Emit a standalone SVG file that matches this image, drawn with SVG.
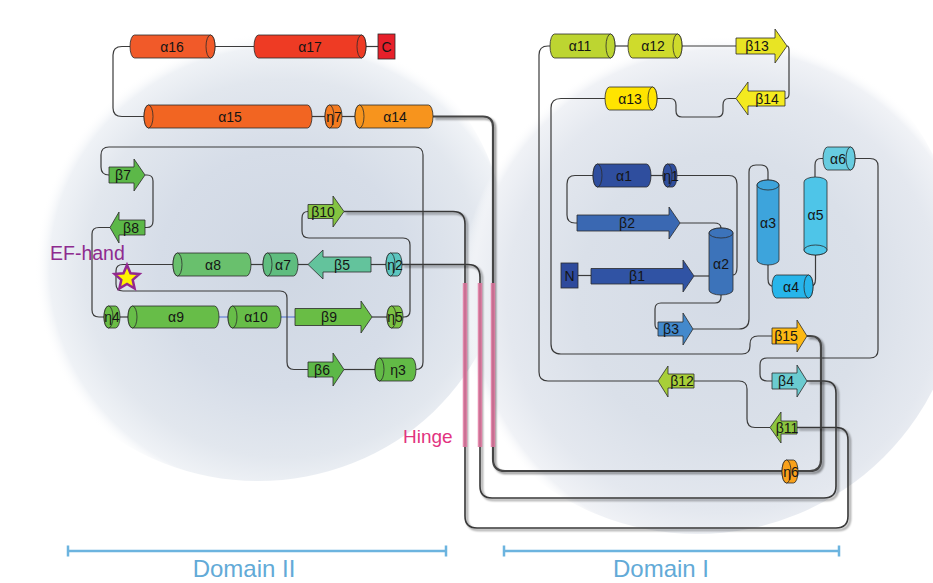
<svg xmlns="http://www.w3.org/2000/svg" width="933" height="583" viewBox="0 0 933 583">
  <defs>
    <radialGradient id="bgL" cx="0.55" cy="0.55" r="0.5">
      <stop offset="0" stop-color="#cfd7e3"/>
      <stop offset="0.5" stop-color="#d6dde8"/>
      <stop offset="0.8" stop-color="#e2e7ee"/>
      <stop offset="0.94" stop-color="#eff2f6"/>
      <stop offset="1" stop-color="#ffffff" stop-opacity="0"/>
    </radialGradient>
    <radialGradient id="bgR" cx="0.55" cy="0.55" r="0.5">
      <stop offset="0" stop-color="#d4dbe6"/>
      <stop offset="0.55" stop-color="#dae0e9"/>
      <stop offset="0.82" stop-color="#e4e8ef"/>
      <stop offset="0.95" stop-color="#f0f2f6"/>
      <stop offset="1" stop-color="#ffffff" stop-opacity="0"/>
    </radialGradient>
    <filter id="sh" x="-5%" y="-5%" width="112%" height="112%">
      <feGaussianBlur in="SourceAlpha" stdDeviation="1.3"/>
      <feOffset dx="2" dy="2" result="b"/>
      <feComponentTransfer><feFuncA type="linear" slope="0.5"/></feComponentTransfer>
      <feMerge><feMergeNode/><feMergeNode in="SourceGraphic"/></feMerge>
    </filter>
    <style>
      .ln{fill:none;stroke:#3b3b3b;stroke-width:1.2}
      .bl{fill:none;stroke:#4c6fd1;stroke-width:1}
      .hl{fill:none;stroke:#383838;stroke-width:1.6;filter:url(#sh)}
      .hb{stroke:#e0769f;stroke-width:4.5;opacity:0.85}
      .s{stroke:#2b2b2b;stroke-width:0.8}
      .lb{font-family:"Liberation Sans",Arial,sans-serif;font-size:14px;fill:#151515;text-anchor:middle}
      .dom{font-family:"Liberation Sans",Arial,sans-serif;font-size:24px;fill:#62aad7;text-anchor:middle}
      .dl{fill:none;stroke:#6cb4df;stroke-width:2.5}
    </style>
  </defs>

  <!-- domain backdrops -->
  <ellipse cx="258" cy="245" rx="248" ry="236" fill="url(#bgL)"/>
  <ellipse cx="697" cy="272" rx="264" ry="262" fill="url(#bgR)"/>

  <!-- connectors -->
  <g id="connectors">
    <path class="ln" d="M130,46.5 H122 Q113,46.5 113,55 V108 Q113,116.5 122,116.5 H144"/>
    <path class="ln" d="M215,46.5 H254"/>
    <path class="ln" d="M366,46.5 H378"/>
    <path class="ln" d="M312,116.5 H325"/>
    <path class="ln" d="M342,116.5 H355"/>
    <path class="ln" d="M109,175 Q101,175 101,167 V155 Q101,147 109,147 H415 Q423,147 423,155 V362 Q423,369.5 416,369.5"/>
    <path class="ln" d="M145,175 H147 Q153,175 153,181 V221 Q153,227.5 147,227.5 H145"/>
    <path class="ln" d="M110,227.5 H99 Q92,227.5 92,234 V310 Q92,317 99,317 H104"/>
    <path class="ln" d="M120,317 H128"/>
    <path class="bl" d="M219,317 H228 M281,317 H295"/>
    <path class="ln" d="M372,317 H387"/>
    <path class="ln" d="M403,317 H404 Q410,317 410,311 V245 Q410,238 403,238 H309 Q302,238 302,231 V218 Q302,211.5 308,211.5"/>
    <path class="ln" d="M386,264.5 H371"/>
    <path class="ln" d="M308,264.5 H298"/>
    <path class="ln" d="M263,264.5 H251"/>
    <path class="ln" d="M173,264.5 H123 Q116,264.5 116,271 V284 Q116,291 123,291 H280 Q287,291 287,298 V362 Q287,369.5 294,369.5 H308"/>
    <path class="ln" d="M344,369.5 H375"/>

    <path class="ln" d="M615,46 H628"/>
    <path class="ln" d="M682,46 H736"/>
    <path class="ln" d="M787,46 Q789,46 789,50 V94 Q789,98.5 785,98.5"/>
    <path class="ln" d="M736,98.5 H729 Q723,98.5 723,105 V111 Q723,117 717,117 H682 Q676,117 676,111 V105 Q676,98.5 670,98.5 H657"/>
    <path class="ln" d="M605,98.5 H561 Q551,98.5 551,108 V344 Q551,354 561,354 H742 Q750,354 750,346 V344 Q750,336 758,336 H772"/>
    <path class="ln" d="M550,46 H548 Q539,46 539,55 V372 Q539,381 548,381 H658"/>
    <path class="ln" d="M694,381 H739 Q747,381 747,389 V419 Q747,427.5 755,427.5 H770"/>
    <path class="ln" d="M855,158.5 H870 Q878,158.5 878,166 V350 Q878,358 870,358 H767 Q760,358 760,365 V374 Q760,381 767,381 H772"/>
    <path class="ln" d="M823,158.5 H821 Q815,158.5 815,165 V177"/>
    <path class="ln" d="M815.5,255 V279 Q815.5,286.5 810,286.5"/>
    <path class="ln" d="M768,265 V279 Q768,286.5 774,286.5"/>
    <path class="ln" d="M768,180 V172 Q768,165 761,165 H756 Q749,165 749,172 V319 Q749,329 739,329 H693"/>
    <path class="ln" d="M658,329 Q655,329 655,324 V309 Q655,303 661,303 H715 Q721,303 721,297 V295"/>
    <path class="ln" d="M680,223 H714 Q721,223 721,228"/>
    <path class="ln" d="M593,175.5 H575 Q567,175.5 567,184 V215 Q567,223 575,223 H577"/>
    <path class="ln" d="M651,175.5 H663"/>
    <path class="ln" d="M677,175.5 H729 Q737,175.5 737,184 V267 Q737,275 733,275"/>
    <path class="ln" d="M578,275.5 H591"/>
    <path class="ln" d="M694,276 H709"/>

    <!-- long links across the hinge -->
    <path class="hl" style="stroke-width:2.2;stroke:#444" d="M433,116.5 H483 Q493,116.5 493,127 V459 Q493,471 505,471 H810 Q821,471 821,460 V347 Q821,336 810,336 H807"/>
    <path class="hl" d="M344,211.5 H453 Q465,211.5 465,224 V516 Q465,528 477,528 H836 Q848,528 848,516 V440 Q848,427.5 836,427.5 H797"/>
    <path class="hl" d="M402,264.5 H468 Q480,264.5 480,277 V486 Q480,498 492,498 H824 Q836,498 836,486 V393 Q836,381 824,381 H807"/>
  </g>

  <!-- hinge marks -->
  <g id="hinge">
    <path class="hb" d="M465,283 V447 M480,283 V447 M493,283 V447"/>
    <text x="403" y="443" style="font-family:'Liberation Sans',Arial,sans-serif;font-size:19px;fill:#e2337f">Hinge</text>
  </g>

  <!-- Domain II -->
  <g id="a16"><path class="s" fill="#f15a29" d="M134.5,35 H210.5 A4.5,11.5 0 0 1 210.5,58 H134.5 A4.5,11.5 0 0 1 134.5,35 Z"/><ellipse class="s" fill="#f15a29" cx="210.5" cy="46.5" rx="4.5" ry="11.5"/><text class="lb" x="172" y="51.5">α16</text></g>
  <g id="a17"><path class="s" fill="#ee3b24" d="M258.5,35 H361.5 A4.5,11.5 0 0 1 361.5,58 H258.5 A4.5,11.5 0 0 1 258.5,35 Z"/><ellipse class="s" fill="#ee3b24" cx="361.5" cy="46.5" rx="4.5" ry="11.5"/><text class="lb" x="310" y="51.5">α17</text></g>
  <g id="cterm"><rect class="s" fill="#e7202a" x="378" y="34" width="17" height="25"/><text class="lb" x="386.5" y="51.5">C</text></g>
  <g id="a15"><path class="s" fill="#f26522" d="M148.5,105 H307.5 A4.5,11.5 0 0 1 307.5,128 H148.5 A4.5,11.5 0 0 1 148.5,105 Z"/><ellipse class="s" fill="#f26522" cx="148.5" cy="116.5" rx="4.5" ry="11.5"/><text class="lb" x="230" y="121.5">α15</text></g>
  <g id="n7"><path class="s" fill="#f47b20" d="M329.5,105 H337.5 A4.5,11.5 0 0 1 337.5,128 H329.5 A4.5,11.5 0 0 1 329.5,105 Z"/><ellipse class="s" fill="#f47b20" cx="329.5" cy="116.5" rx="4.5" ry="11.5"/><text class="lb" x="334" y="121.5">η7</text></g>
  <g id="a14"><path class="s" fill="#f7941d" d="M359.5,105 H428.5 A4.5,11.5 0 0 1 428.5,128 H359.5 A4.5,11.5 0 0 1 359.5,105 Z"/><ellipse class="s" fill="#f7941d" cx="359.5" cy="116.5" rx="4.5" ry="11.5"/><text class="lb" x="395" y="121.5">α14</text></g>

  <g id="b7"><polygon class="s" fill="#5cb848" points="109,167 134,167 134,159 145,175 134,191 134,183 109,183"/><text class="lb" x="123" y="180">β7</text></g>
  <g id="b8"><polygon class="s" fill="#5cb848" points="110,227.5 119,212 119,220 145,220 145,235 119,235 119,243"/><text class="lb" x="131" y="232.5">β8</text></g>
  <g id="b10"><polygon class="s" fill="#84c441" points="308,204.5 333,204.5 333,196 344,211.5 333,227 333,218.5 308,218.5"/><text class="lb" x="323" y="216.5">β10</text></g>
  <g id="a8"><path class="s" fill="#69c06d" d="M177.5,253 H246.5 A4.5,11.5 0 0 1 246.5,276 H177.5 A4.5,11.5 0 0 1 177.5,253 Z"/><ellipse class="s" fill="#69c06d" cx="177.5" cy="264.5" rx="4.5" ry="11.5"/><text class="lb" x="213" y="269.5">α8</text></g>
  <g id="a7"><path class="s" fill="#5fbd7f" d="M267.5,253 H293.5 A4.5,11.5 0 0 1 293.5,276 H267.5 A4.5,11.5 0 0 1 267.5,253 Z"/><ellipse class="s" fill="#5fbd7f" cx="267.5" cy="264.5" rx="4.5" ry="11.5"/><text class="lb" x="283" y="269.5">α7</text></g>
  <g id="b5"><polygon class="s" fill="#63c39c" points="308,264.5 323,250 323,257 371,257 371,272 323,272 323,279"/><text class="lb" x="342" y="269.5">β5</text></g>
  <g id="n2"><path class="s" fill="#5cc6c0" d="M390.5,253 H397.5 A4.5,11.5 0 0 1 397.5,276 H390.5 A4.5,11.5 0 0 1 390.5,253 Z"/><ellipse class="s" fill="#5cc6c0" cx="390.5" cy="264.5" rx="4.5" ry="11.5"/><text class="lb" x="395" y="269.5">η2</text></g>

  <g id="efhand">
    <text x="50" y="260" style="font-family:'Liberation Sans',Arial,sans-serif;font-size:19.5px;fill:#8e2b8f">EF-hand</text>
    <polygon points="127,265 130.5,273.2 139.4,274 132.7,279.9 134.6,288.5 127,284 119.4,288.5 121.3,279.9 114.6,274 123.5,273.2" fill="#fff200" stroke="#93278f" stroke-width="2.5" stroke-linejoin="miter"/>
  </g>

  <g id="n4"><path class="s" fill="#6abd45" d="M108.5,306 H115.5 A4.5,11 0 0 1 115.5,328 H108.5 A4.5,11 0 0 1 108.5,306 Z"/><ellipse class="s" fill="#6abd45" cx="108.5" cy="317" rx="4.5" ry="11"/><text class="lb" x="112" y="322">η4</text></g>
  <g id="a9"><path class="s" fill="#67bd48" d="M132.5,306 H214.5 A4.5,11 0 0 1 214.5,328 H132.5 A4.5,11 0 0 1 132.5,306 Z"/><ellipse class="s" fill="#67bd48" cx="132.5" cy="317" rx="4.5" ry="11"/><text class="lb" x="176" y="322">α9</text></g>
  <g id="a10"><path class="s" fill="#67bd48" d="M232.5,306 H276.5 A4.5,11 0 0 1 276.5,328 H232.5 A4.5,11 0 0 1 232.5,306 Z"/><ellipse class="s" fill="#67bd48" cx="232.5" cy="317" rx="4.5" ry="11"/><text class="lb" x="256" y="322">α10</text></g>
  <g id="b9"><polygon class="s" fill="#69bd45" points="295,308.5 361,308.5 361,301 372,317 361,333 361,325.5 295,325.5"/><text class="lb" x="329" y="322">β9</text></g>
  <g id="n5"><path class="s" fill="#7cc242" d="M391.5,306 H398.5 A4.5,11 0 0 1 398.5,328 H391.5 A4.5,11 0 0 1 391.5,306 Z"/><ellipse class="s" fill="#7cc242" cx="391.5" cy="317" rx="4.5" ry="11"/><text class="lb" x="395" y="322">η5</text></g>
  <g id="b6"><polygon class="s" fill="#5db848" points="308,362 333,362 333,353 344,369.5 333,386 333,377 308,377"/><text class="lb" x="322" y="374.5">β6</text></g>
  <g id="n3"><path class="s" fill="#62ba46" d="M379.5,358 H411.5 A4.5,11.5 0 0 1 411.5,381 H379.5 A4.5,11.5 0 0 1 379.5,358 Z"/><ellipse class="s" fill="#62ba46" cx="379.5" cy="369.5" rx="4.5" ry="11.5"/><text class="lb" x="398" y="374.5">η3</text></g>

  <!-- Domain I -->
  <g id="a11"><path class="s" fill="#bdd531" d="M554.5,34 H610.5 A4.5,12 0 0 1 610.5,58 H554.5 A4.5,12 0 0 1 554.5,34 Z"/><ellipse class="s" fill="#bdd531" cx="610.5" cy="46" rx="4.5" ry="12"/><text class="lb" x="580" y="51">α11</text></g>
  <g id="a12"><path class="s" fill="#cfdb2c" d="M632.5,34 H677.5 A4.5,12 0 0 1 677.5,58 H632.5 A4.5,12 0 0 1 632.5,34 Z"/><ellipse class="s" fill="#cfdb2c" cx="677.5" cy="46" rx="4.5" ry="12"/><text class="lb" x="653" y="51">α12</text></g>
  <g id="b13"><polygon class="s" fill="#e8e424" points="736,38 775,38 775,29 787,46 775,63 775,54 736,54"/><text class="lb" x="757" y="51">β13</text></g>
  <g id="b14"><polygon class="s" fill="#f4ea1f" points="736,98.5 748,82 748,91 785,91 785,106 748,106 748,115"/><text class="lb" x="767" y="103.5">β14</text></g>
  <g id="a13"><path class="s" fill="#ffe400" d="M609.5,87 H652.5 A4.5,11.5 0 0 1 652.5,110 H609.5 A4.5,11.5 0 0 1 609.5,87 Z"/><ellipse class="s" fill="#ffe400" cx="652.5" cy="98.5" rx="4.5" ry="11.5"/><text class="lb" x="630" y="103.5">α13</text></g>

  <g id="a1"><path class="s" fill="#2f4e9e" d="M597.5,164 H646.5 A4.5,11.5 0 0 1 646.5,187 H597.5 A4.5,11.5 0 0 1 597.5,164 Z"/><ellipse class="s" fill="#2f4e9e" cx="597.5" cy="175.5" rx="4.5" ry="11.5"/><text class="lb" x="624" y="180.5">α1</text></g>
  <g id="n1"><path class="s" fill="#2f4e9e" d="M667.5,164 H672.5 A4.5,11.5 0 0 1 672.5,187 H667.5 A4.5,11.5 0 0 1 667.5,164 Z"/><ellipse class="s" fill="#2f4e9e" cx="667.5" cy="175.5" rx="4.5" ry="11.5"/><text class="lb" x="671" y="180.5">η1</text></g>
  <g id="b2"><polygon class="s" fill="#3a68b2" points="577,215 669,215 669,207 680,223 669,239 669,231 577,231"/><text class="lb" x="627" y="228">β2</text></g>
  <g id="nterm"><rect class="s" fill="#2e4a9c" x="561" y="263" width="17" height="25"/><text class="lb" x="569.5" y="280.5">N</text></g>
  <g id="b1"><polygon class="s" fill="#3053a4" points="591,268.5 683,268.5 683,260 694,276 683,292 683,284 591,284"/><text class="lb" x="637" y="281">β1</text></g>
  <g id="a2"><path class="s" fill="#3c73ba" d="M709,233 V290 A12,5 0 0 0 733,290 V233 A12,5 0 0 0 709,233 Z"/><ellipse class="s" fill="#3c73ba" cx="721" cy="233" rx="12" ry="5"/><text class="lb" x="721" y="269">α2</text></g>
  <g id="b3"><polygon class="s" fill="#4389cc" points="658,322 683,322 683,313 693,329 683,345 683,336 658,336"/><text class="lb" x="671" y="334">β3</text></g>
  <g id="a3"><path class="s" fill="#3da4dc" d="M757,185 V260 A11,5 0 0 0 779,260 V185 A11,5 0 0 0 757,185 Z"/><ellipse class="s" fill="#3da4dc" cx="768" cy="185" rx="11" ry="5"/><text class="lb" x="768" y="228">α3</text></g>
  <g id="a4"><path class="s" fill="#27b5ea" d="M776.5,275 H808.5 A4.5,11.5 0 0 1 808.5,298 H776.5 A4.5,11.5 0 0 1 776.5,275 Z"/><ellipse class="s" fill="#27b5ea" cx="808.5" cy="286.5" rx="4.5" ry="11.5"/><text class="lb" x="791" y="291.5">α4</text></g>
  <g id="a5"><path class="s" fill="#4ec5e8" d="M804,182 A11.5,5 0 0 1 827,182 V250 A11.5,5 0 0 1 804,250 Z"/><ellipse class="s" fill="#4ec5e8" cx="815.5" cy="250" rx="11.5" ry="5"/><text class="lb" x="815.5" y="220">α5</text></g>
  <g id="a6"><path class="s" fill="#67cce0" d="M827.5,147 H850.5 A4.5,11.5 0 0 1 850.5,170 H827.5 A4.5,11.5 0 0 1 827.5,147 Z"/><ellipse class="s" fill="#67cce0" cx="850.5" cy="158.5" rx="4.5" ry="11.5"/><text class="lb" x="838" y="163.5">α6</text></g>

  <g id="b15"><polygon class="s" fill="#fdb913" points="772,328 797,328 797,320 807,336 797,352 797,344 772,344"/><text class="lb" x="786" y="341">β15</text></g>
  <g id="b4"><polygon class="s" fill="#6acbd0" points="772,373 797,373 797,365 807,381 797,397 797,389 772,389"/><text class="lb" x="786" y="386">β4</text></g>
  <g id="b12"><polygon class="s" fill="#a8cf38" points="658,381 668,366 668,374 694,374 694,388 668,388 668,397"/><text class="lb" x="682" y="386">β12</text></g>
  <g id="b11"><polygon class="s" fill="#8cc63f" points="770,427.5 781,412 781,421 797,421 797,434 781,434 781,443"/><text class="lb" x="787" y="432.5">β11</text></g>
  <g id="n6"><path class="s" fill="#f9a11b" d="M786.5,460 H793.5 A4.5,11.5 0 0 1 793.5,483 H786.5 A4.5,11.5 0 0 1 786.5,460 Z"/><ellipse class="s" fill="#f9a11b" cx="786.5" cy="471.5" rx="4.5" ry="11.5"/><text class="lb" x="791" y="476.5">η6</text></g>

  <!-- domain scale bars -->
  <g id="domain2">
    <path class="dl" d="M68,551 H446 M68,545.5 V556.5 M446,545.5 V556.5"/>
    <text class="dom" x="244" y="577">Domain II</text>
  </g>
  <g id="domain1">
    <path class="dl" d="M504,551 H839 M504,545.5 V556.5 M839,545.5 V556.5"/>
    <text class="dom" x="661" y="577">Domain I</text>
  </g>
</svg>
